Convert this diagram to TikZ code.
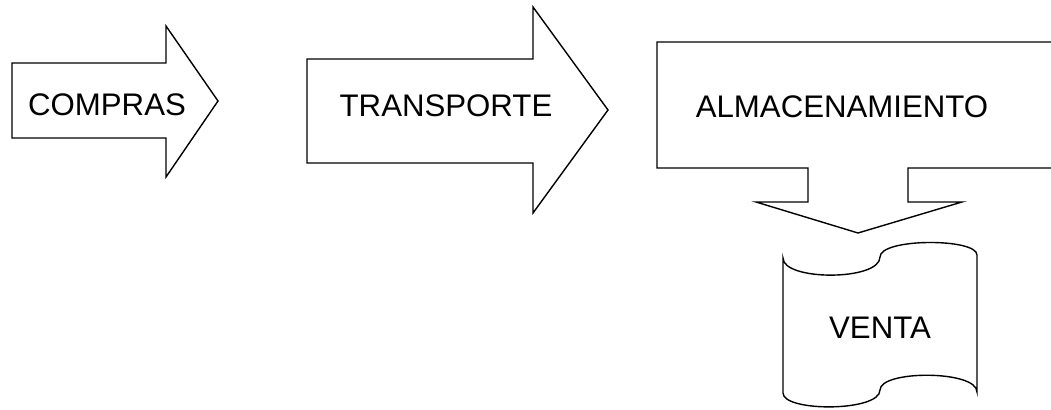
\documentclass[tikz,border=0pt]{standalone}
\usepackage{fontspec}
\setmainfont{Liberation Sans}

\tikzset{
  outline/.style={draw, line width=0.7pt, line join=miter},
  lbl/.style={inner sep=0pt, font=\fontsize{15.6}{18}\selectfont}
}

\begin{document}
\begin{tikzpicture}[x=0.5pt, y=-0.5pt]
    \useasboundingbox (0,0) rectangle (1051,410);
    % block arrows
    \draw[outline] (12,63) -- (166,63) -- (166,26) -- (218,101) -- (166,177)
      -- (166,138) -- (12,138) -- cycle;
    \draw[outline] (307,59) -- (533,59) -- (533,7) -- (608,110) -- (533,213)
      -- (533,163) -- (307,163) -- cycle;
    % callout, its right side runs off the page
    \draw[outline] (1052,42) -- (657,42) -- (657,168) -- (808,168) -- (808,202)
      -- (756,202) -- (858,233) -- (962,202) -- (908,202) -- (908,168) -- (1052,168);
    % punched tape
    \draw[outline] (783,258) .. controls (783,281) and (880,281) .. (880,257)
      .. controls (880,238) and (977,238) .. (977,255) -- (977,392)
      .. controls (977,370) and (880,370) .. (880,390)
      .. controls (880,412) and (783,412) .. (783,393) -- cycle;
    \node[lbl] (compras) at (107,105) {COMPRAS};
    \node[lbl] (transporte) at (446,106) {TRANSPORTE};
    \node[lbl] (almacen) at (842,107) {ALMACENAMIENTO};
    \node[lbl] (venta) at (880,328) {VENTA};
\end{tikzpicture}
\end{document}
